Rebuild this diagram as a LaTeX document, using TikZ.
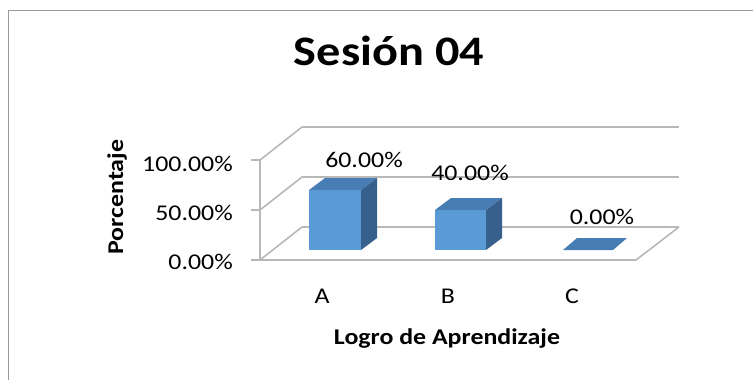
\documentclass[tikz,border=0pt]{standalone}
\usepackage{fontspec}
\setmainfont{Carlito}[FakeStretch=1.15]
\usepackage{tikz}

\begin{document}
\begin{tikzpicture}[x = 1pt, y = -1pt,
                    grid/.style = {draw = black!28, line width = 1.6pt},
                    frame/.style = {draw = black!40, line width = 1pt},
                    front/.style = {fill = barfront},
                    top/.style = {fill = bartop},
                    side/.style = {fill = barside},
                    txt/.style = {font = \fontsize{22.5}{26}\selectfont, inner sep = 0pt},
                    bold/.style = {font = \fontsize{22.5}{26}\selectfont\bfseries, inner sep = 0pt}]
    \definecolor{barfront}{RGB}{91,155,213}
    \definecolor{bartop}{RGB}{72,125,180}
    \definecolor{barside}{RGB}{56,96,140}
    \useasboundingbox (0, 0) rectangle (753, 380);
    \fill [white] (0, 0) rectangle (753, 380);
    \draw [frame] (8, 380) -- (8, 10) -- (753, 10);

    % walls and floor
    \draw [grid] (302, 127) -- (679, 127);
    \draw [grid] (302, 177) -- (679, 177);
    \draw [grid] (302, 227) -- (679, 227);
    \draw [grid] (260, 160) -- (302, 127);
    \draw [grid] (260, 210) -- (302, 177);
    \draw [grid] (260, 260) -- (302, 227);
    \draw [grid] (679, 227) -- (636, 260) -- (260, 260);
    \draw [grid] (260, 160) -- (260, 260);
    \draw [grid] (251, 160) -- (260, 160);
    \draw [grid] (251, 210) -- (260, 210);
    \draw [grid] (251, 260) -- (260, 260);

    % bars
    \fill [front] (309, 190) rectangle (361, 250);
    \fill [top] (309, 190) -- (361, 190) -- (377, 178) -- (325, 178) -- cycle;
    \fill [side] (361, 190) -- (377, 178) -- (377, 238) -- (361, 250) -- cycle;
    \fill [front] (435, 210) rectangle (486, 250);
    \fill [top] (435, 210) -- (486, 210) -- (502, 198) -- (451, 198) -- cycle;
    \fill [side] (486, 210) -- (502, 198) -- (502, 238) -- (486, 250) -- cycle;
    \fill [top] (563, 250) -- (613, 250) -- (627, 238) -- (577, 238) -- cycle;

    % texts
    \node [anchor = base, inner sep = 0pt, font = \fontsize{42}{48}\selectfont\bfseries] (title) at (389, 65) {Sesión 04};
    \node [txt, anchor = base east] (y100) at (233, 171) {100.00\%};
    \node [txt, anchor = base east] (y50) at (233, 220) {50.00\%};
    \node [txt, anchor = base east] (y0) at (233, 269) {0.00\%};
    \node [txt, anchor = base] (vA) at (364, 167) {60.00\%};
    \node [txt, anchor = base] (vB) at (470, 180) {40.00\%};
    \node [txt, anchor = base] (vC) at (602, 224) {0.00\%};
    \node [txt, anchor = base] (cA) at (322, 303) {A};
    \node [txt, anchor = base] (cB) at (448, 303) {B};
    \node [txt, anchor = base] (cC) at (572, 303) {C};
    \node [bold, anchor = base] (xlabel) at (447, 344) {Logro de Aprendizaje};
    \node [bold, anchor = base, rotate = 90] (ylabel) at (123, 197) {Porcentaje};
\end{tikzpicture}
\end{document}
